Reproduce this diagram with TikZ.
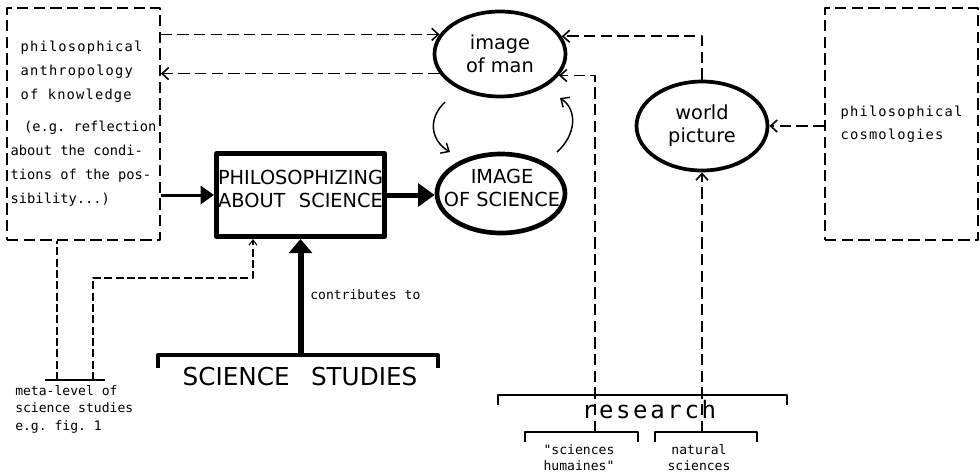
\documentclass[tikz,border=0pt]{standalone}
\usepackage{fontspec}
\setmainfont{DejaVu Sans}
\setmonofont{DejaVu Sans Mono}
\newfontfamily\typewide[LetterSpace=8.6]{DejaVu Sans Mono}
\newfontfamily\typeresearch[LetterSpace=11]{DejaVu Sans Mono}
\usetikzlibrary{shapes.geometric,arrows.meta}

\begin{document}
\begin{tikzpicture}[line join=round,>={Straight Barb[length=5pt,width=9pt]},x=0.75pt,y=-0.75pt,
    dashline/.style={line width=1.2pt, dash pattern=on 8.5pt off 4pt},
    finedash/.style={line width=0.8pt, dash pattern=on 6pt off 2.5pt},
    dashbox/.style={draw, dashline, minimum width=114.75pt, minimum height=174pt, inner sep=0pt, align=left},
    bubble/.style={draw, ellipse, line width=2.8pt, inner sep=0pt, align=center, font=\fontsize{14.5}{17.25}\selectfont},
    bigcaps/.style={inner sep=0pt, align=center, font=\fontsize{14.5}{17.25}\selectfont},
    smalltext/.style={inner sep=0pt, font=\ttfamily\fontsize{9.8}{13.1}\selectfont},
    bracket/.style={line width=1.4pt}]

    \useasboundingbox (0,0) rectangle (980,472);

    % Define the boxes and ellipses
    \node[dashbox, font=\ttfamily\fontsize{10.3}{18}\selectfont] (anthro) at (83.5,124)
        {\hspace*{7.5pt}{\typewide philosophical}\\\hspace*{7.5pt}{\typewide anthropology}\\\hspace*{7.5pt}{\typewide of knowledge}\\[6pt]
         \hspace*{10pt}(e.g. reflection\\about the condi-\\tions of the pos-\\sibility...)};
    \node[dashbox, font=\typewide\fontsize{10.3}{17}\selectfont] (cosmo) at (901.5,124) {philosophical\\cosmologies};
    \node[draw, line width=3.75pt, minimum width=126pt, minimum height=62.25pt, inner sep=0pt] (philo) at (300.5,195) {};
    \node[bigcaps] (philolabel) at (300.5,189) {PHILOSOPHIZING\\ABOUT\hspace{0.7em}SCIENCE};
    \node[bubble, minimum width=98.25pt, minimum height=63.75pt] (man) at (500,54) {image\\of man};
    \node[bubble, line width=3.5pt, minimum width=96pt, minimum height=59.25pt] (sci) at (501,193.5) {};
    \node[bigcaps] (scilabel) at (502,188) {IMAGE\\OF SCIENCE};
    \node[bubble, minimum width=98.25pt, minimum height=66.75pt] (world) at (702,126) {world\\picture};

    % Brackets at the bottom
    \coordinate (studtop) at (300.5,355);
    \draw[line width=3pt] (158,368) -- (158,355) -- (438,355) -- (438,368);
    \node[inner sep=0pt, font=\fontsize{18.5}{20}\selectfont] (studies) at (300,376.5) {SCIENCE\hspace{16pt}STUDIES};

    \draw[bracket] (498,405) -- (498,395) -- (787,395) -- (787,405);
    \node[inner sep=0pt, anchor=base, font=\typeresearch\fontsize{18}{20}\selectfont] (research) at (649,418) {research};

    \coordinate (humtop) at (595,432);
    \coordinate (nattop) at (702,432);
    \draw[line width=1.1pt] (525,442) -- (525,432) -- (638,432) -- (638,442);
    \draw[line width=1.1pt] (655,442) -- (655,432) -- (757,432) -- (757,442);
    \node[smalltext, align=center, anchor=north, font=\ttfamily\fontsize{9.8}{11.5}\selectfont] (humaines) at (579,444.5) {"sciences\\humaines"};
    \node[smalltext, align=center, anchor=north, font=\ttfamily\fontsize{9.8}{11.5}\selectfont] (natural) at (699,444.5) {natural\\sciences};

    % Meta-level bar
    \coordinate (metaL) at (57,380);
    \coordinate (metaR) at (93,380);
    \coordinate (bend) at (253,278);
    \draw[line width=0.8pt] (45,380) -- (105,380);
    \node[smalltext, align=left, anchor=north west] (meta) at (15,385) {meta-level of\\science studies\\e.g. fig. 1};
    \node[smalltext, anchor=west] (contrib) at (310,295) {contributes to};

    % Dashed connectors
    \draw[dashline,->] (anthro.east |- man.162) -- (man.162);
    \draw[dashline,->] (man.198) -- (anthro.east |- man.198);
    \draw[dashline,->] (world.north) |- (man.16);
    \draw[dashline,->] (humtop) |- (man.-20);
    \draw[dashline,->] (cosmo.west |- world.east) -- (world.east);
    \draw[dashline,->] (nattop) -- (world.south);
    \draw[finedash] (metaL) -- (metaL |- anthro.south);
    \draw[finedash,-{Straight Barb[length=4pt,width=6pt]}] (metaR) |- (bend) -- (bend |- philo.south);

    % Solid arrows
    \draw[line width=2.25pt,-{Triangle[length=10pt,width=13.5pt]}] (anthro.east |- philo.west) -- (philo.west);
    \draw[line width=3.75pt,-{Triangle[length=12.5pt,width=17pt]}] (philo.east) -- (philo.east -| sci.west);
    \draw[line width=4.5pt,-{Triangle[length=10.5pt,width=17pt]}] (studtop) -- (philo.south);

    % Curved arrows between the two images
    \coordinate (c1) at (445,102);
    \coordinate (c2) at (450,152);
    \coordinate (c3) at (557,152);
    \coordinate (c4) at (560,98);
    \draw[line width=1.1pt,->] (c1) .. controls (428,118) and (430,140) .. (c2);
    \draw[line width=1.1pt,->] (c3) .. controls (576,135) and (578,110) .. (c4);

\end{tikzpicture}
\end{document}
